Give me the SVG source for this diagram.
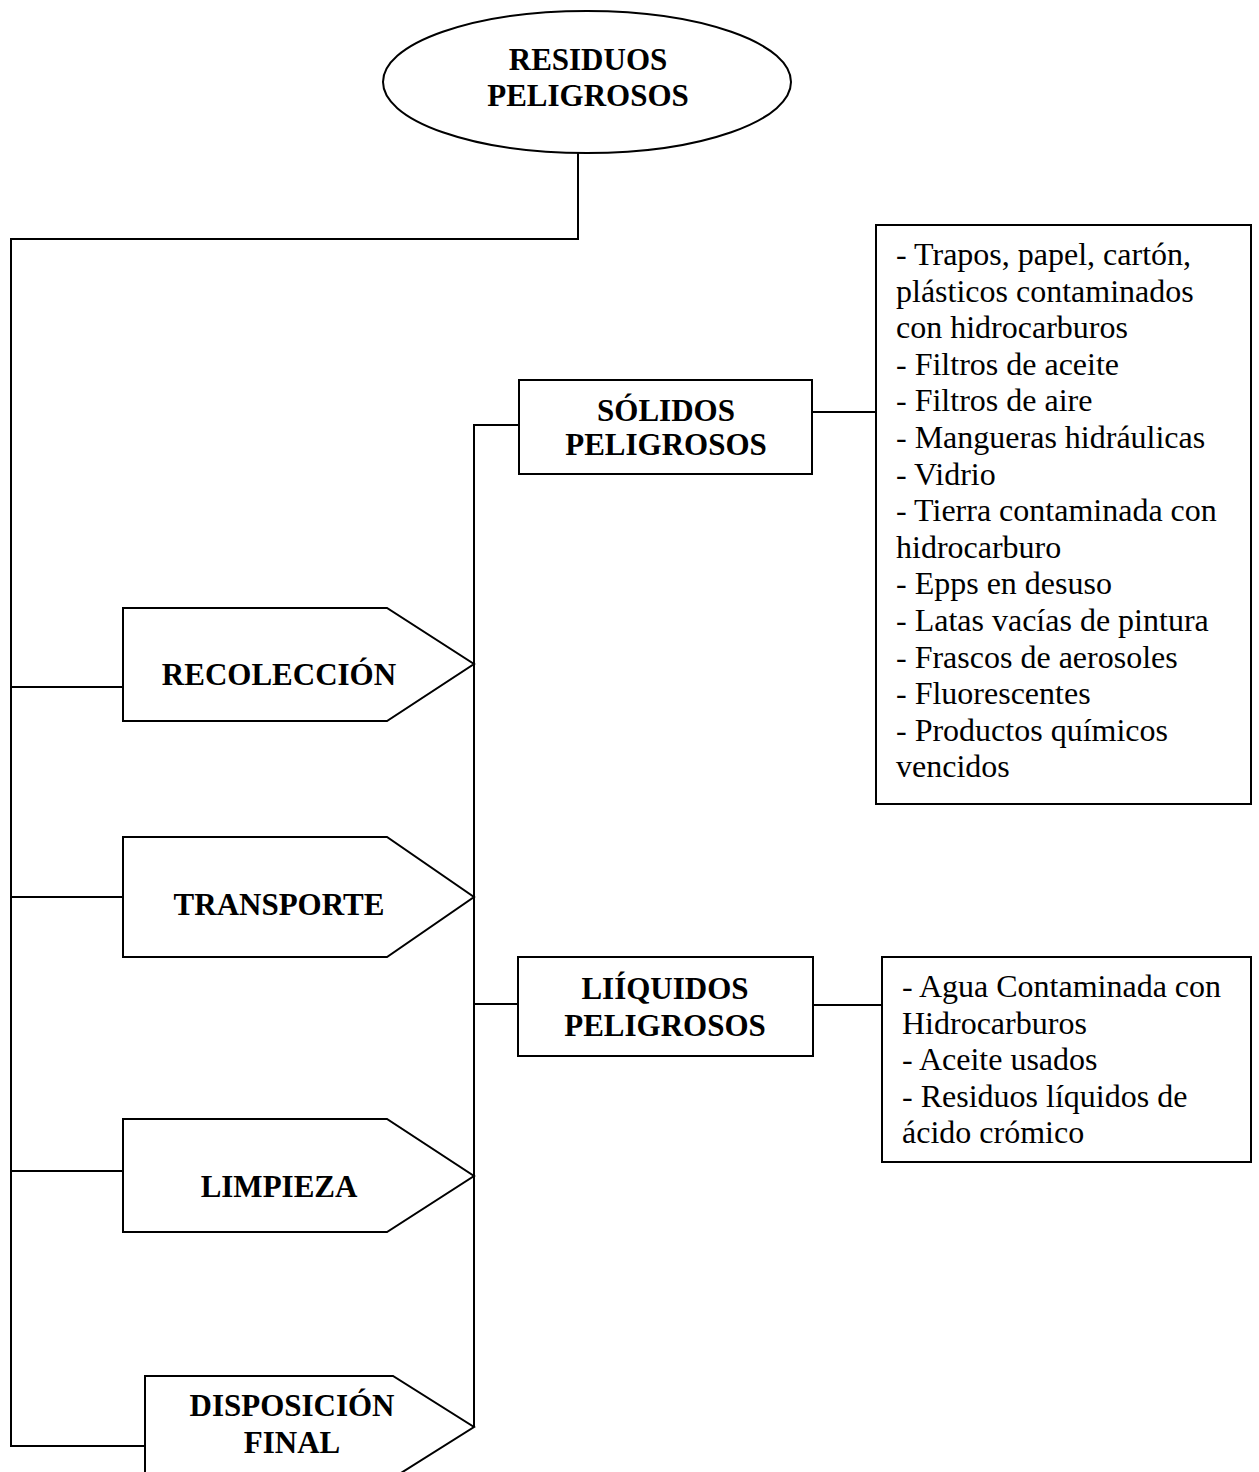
<svg xmlns="http://www.w3.org/2000/svg" width="1259" height="1472" viewBox="0 0 1259 1472">
<style>
.shape{fill:#fff;stroke:#000;stroke-width:2}
.conn{fill:none;stroke:#000;stroke-width:2}
.b{font-family:"Liberation Serif","Times New Roman",serif;font-weight:bold;font-size:31px;fill:#000;text-anchor:middle}
.r{font-family:"Liberation Serif","Times New Roman",serif;font-size:32px;fill:#000}
</style>
<rect width="1259" height="1472" fill="#fff"/>
<g id="connectors">
<polyline class="conn" points="578,153 578,239 11,239 11,1446 145,1446"/>
<line class="conn" x1="11" y1="687" x2="123" y2="687"/>
<line class="conn" x1="11" y1="897" x2="123" y2="897"/>
<line class="conn" x1="11" y1="1171" x2="123" y2="1171"/>
<polyline class="conn" points="519,425 474,425 474,1427"/>
<line class="conn" x1="474" y1="1004" x2="518" y2="1004"/>
<line class="conn" x1="812" y1="412" x2="876" y2="412"/>
<line class="conn" x1="813" y1="1005" x2="882" y2="1005"/>
</g>
<g id="residuos">
<ellipse class="shape" cx="587" cy="82" rx="204" ry="71"/>
<text class="b" x="588" y="70">RESIDUOS</text>
<text class="b" x="588" y="106">PELIGROSOS</text>
</g>
<g id="recoleccion">
<polygon class="shape" points="123,608 387,608 474,664 387,721 123,721"/>
<text class="b" x="279" y="685">RECOLECCIÓN</text>
</g>
<g id="transporte">
<polygon class="shape" points="123,837 387,837 474,897 387,957 123,957"/>
<text class="b" x="279" y="915">TRANSPORTE</text>
</g>
<g id="limpieza">
<polygon class="shape" points="123,1119 387,1119 474,1176 387,1232 123,1232"/>
<text class="b" x="279" y="1197">LIMPIEZA</text>
</g>
<g id="disposicion">
<polygon class="shape" points="145,1376 393,1376 474,1427 393,1478 145,1478"/>
<text class="b" x="292" y="1416">DISPOSICIÓN</text>
<text class="b" x="292" y="1453">FINAL</text>
</g>
<g id="solidos">
<rect class="shape" x="519" y="380" width="293" height="94"/>
<text class="b" x="666" y="421">SÓLIDOS</text>
<text class="b" x="666" y="455">PELIGROSOS</text>
</g>
<g id="liquidos">
<rect class="shape" x="518" y="957" width="295" height="99"/>
<text class="b" x="665" y="999">LIÍQUIDOS</text>
<text class="b" x="665" y="1036">PELIGROSOS</text>
</g>
<g id="lista-solidos">
<rect class="shape" x="876" y="225" width="375" height="579"/>
<text class="r" x="896" y="265">- Trapos, papel, cartón,</text>
<text class="r" x="896" y="301.6">plásticos contaminados</text>
<text class="r" x="896" y="338.2">con hidrocarburos</text>
<text class="r" x="896" y="374.8">- Filtros de aceite</text>
<text class="r" x="896" y="411.4">- Filtros de aire</text>
<text class="r" x="896" y="448">- Mangueras hidráulicas</text>
<text class="r" x="896" y="484.6">- Vidrio</text>
<text class="r" x="896" y="521.2">- Tierra contaminada con</text>
<text class="r" x="896" y="557.8">hidrocarburo</text>
<text class="r" x="896" y="594.4">- Epps en desuso</text>
<text class="r" x="896" y="631">- Latas vacías de pintura</text>
<text class="r" x="896" y="667.6">- Frascos de aerosoles</text>
<text class="r" x="896" y="704.2">- Fluorescentes</text>
<text class="r" x="896" y="740.8">- Productos químicos</text>
<text class="r" x="896" y="777.4">vencidos</text>
</g>
<g id="lista-liquidos">
<rect class="shape" x="882" y="957" width="369" height="205"/>
<text class="r" x="902" y="997">- Agua Contaminada con</text>
<text class="r" x="902" y="1033.5">Hidrocarburos</text>
<text class="r" x="902" y="1070">- Aceite usados</text>
<text class="r" x="902" y="1106.5">- Residuos líquidos de</text>
<text class="r" x="902" y="1143">ácido crómico</text>
</g>
</svg>
